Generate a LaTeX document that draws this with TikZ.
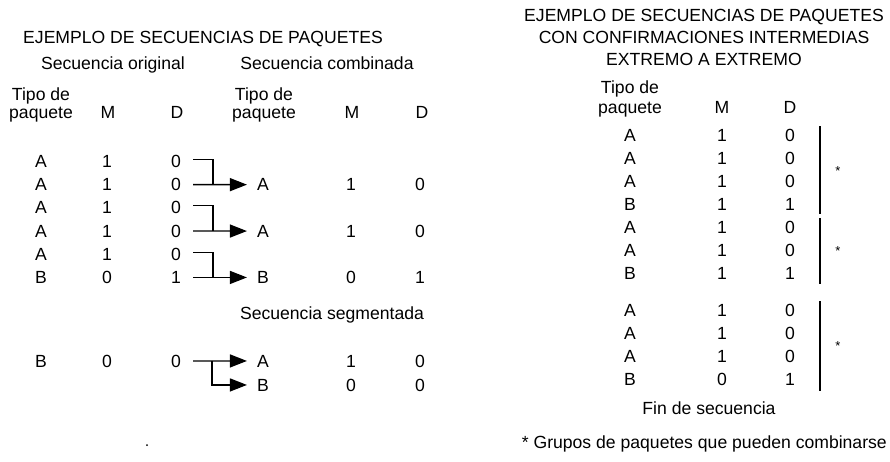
\documentclass[tikz,border=0pt]{standalone}
\usepackage{fontspec}
\setmainfont{Liberation Sans}
\usetikzlibrary{calc,arrows.meta}
\begin{document}
\begin{tikzpicture}[x=1pt,y=-1pt,
  t/.style={anchor=base,inner sep=0pt,font=\fontsize{17.6}{21}\selectfont},
  con/.style={line width=1.3pt},
  arr/.style={con,-{Triangle[length=17pt,width=13pt]}},
  bar/.style={line width=1.3pt},
  star/.style={inner sep=0pt,font=\fontsize{13}{15}\selectfont}]
\useasboundingbox[fill=white] (0,0) rectangle (890,461);

% ---------- left panel ----------
\node[t] (ltitle) at (203,43) {EJEMPLO DE SECUENCIAS DE PAQUETES};
\node[t] (orig) at (113,69) {Secuencia original};
\node[t] (comb) at (327,69) {Secuencia combinada};

\node[t] (lh1) at (41,100) {Tipo de};
\node[t] (lh2) at (41,118) {paquete};
\node[t] (lhm) at (108,118) {M};
\node[t] (lhd) at (177,118) {D};

\node[t] (ch1) at (264,100) {Tipo de};
\node[t] (ch2) at (264,118) {paquete};
\node[t] (chm) at (352,118) {M};
\node[t] (chd) at (422,118) {D};

\foreach \i/\a/\b/\c in {1/A/1/0,2/A/1/0,3/A/1/0,4/A/1/0,5/A/1/0,6/B/0/1}{
  \node[t] (lt\i) at (41,{144.3+23.2*\i}) {\a};
  \node[t] (lm\i) at (107,{144.3+23.2*\i}) {\b};
  \node[t] (ld\i) at (176,{144.3+23.2*\i}) {\c};
}

\foreach \i/\r/\a/\b/\c in {1/2/A/1/0,2/4/A/1/0,3/6/B/0/1}{
  \node[t] (ct\i) at (263,{144.3+23.2*\r}) {\a};
  \node[t] (cm\i) at (351,{144.3+23.2*\r}) {\b};
  \node[t] (cd\i) at (420,{144.3+23.2*\r}) {\c};
}

\draw[con] ($(ld1.east)+(12,-2)$) -| ($(ld2.east)+(32,0)$);
\draw[arr] ($(ld2.east)+(12,0)$) -- ($(ct1.west)+(-10,0)$);
\draw[con] ($(ld3.east)+(12,-2)$) -| ($(ld4.east)+(32,0)$);
\draw[arr] ($(ld4.east)+(12,0)$) -- ($(ct2.west)+(-10,0)$);
\draw[con] ($(ld5.east)+(12,-2)$) -| ($(ld6.east)+(32,0)$);
\draw[arr] ($(ld6.east)+(12,0)$) -- ($(ct3.west)+(-10,0)$);

\node[t] (segm) at (332,319) {Secuencia segmentada};
\node[t] (st1) at (41,367) {B};
\node[t] (sm1) at (107,367) {0};
\node[t] (sd1) at (176,367) {0};
\node[t] (sa) at (263,367) {A};
\node[t] (sam) at (351,367) {1};
\node[t] (sad) at (420,367) {0};
\node[t] (sb) at (263,391) {B};
\node[t] (sbm) at (351,391) {0};
\node[t] (sbd) at (420,391) {0};
\draw[arr] ($(sd1.east)+(12,0)$) -- ($(sa.west)+(-10,0)$);
\draw[arr] ($(sd1.east)+(31,0)$) |- ($(sb.west)+(-10,0)$);

\fill (147,445) circle (1);

% ---------- right panel ----------
\node[t] (rt1) at (704,21) {EJEMPLO DE SECUENCIAS DE PAQUETES};
\node[t] (rt2) at (704,43) {CON CONFIRMACIONES INTERMEDIAS};
\node[t] (rt3) at (704,65) {EXTREMO A EXTREMO};

\node[t] (rh1) at (630,93) {Tipo de};
\node[t] (rh2) at (630,113) {paquete};
\node[t] (rhm) at (722,113) {M};
\node[t] (rhd) at (790,113) {D};

\foreach \i/\y/\a/\b/\c in {1/141/A/1/0,2/164/A/1/0,3/187/A/1/0,4/210/B/1/1,
  5/233/A/1/0,6/256/A/1/0,7/279/B/1/1,
  8/316/A/1/0,9/339/A/1/0,10/362/A/1/0,11/385/B/0/1}{
  \node[t] (rt\i) at (630,\y) {\a};
  \node[t] (rm\i) at (722,\y) {\b};
  \node[t] (rd\i) at (790,\y) {\c};
}

\coordinate (b1a) at (820,126); \coordinate (b1b) at (820,214);
\coordinate (b2a) at (820,218); \coordinate (b2b) at (820,284);
\coordinate (b3a) at (820,301); \coordinate (b3b) at (820,391);
\draw[bar] (b1a) -- (b1b);
\draw[bar] (b2a) -- (b2b);
\draw[bar] (b3a) -- (b3b);
\node[star] (s1) at (838,171) {*};
\node[star] (s2) at (838,251) {*};
\node[star] (s3) at (838,346) {*};

\node[t] (fin) at (709,414) {Fin de secuencia};
\node[t,anchor=base east] (foot) at (887,448) {* Grupos de paquetes que pueden combinarse};
\end{tikzpicture}
\end{document}
